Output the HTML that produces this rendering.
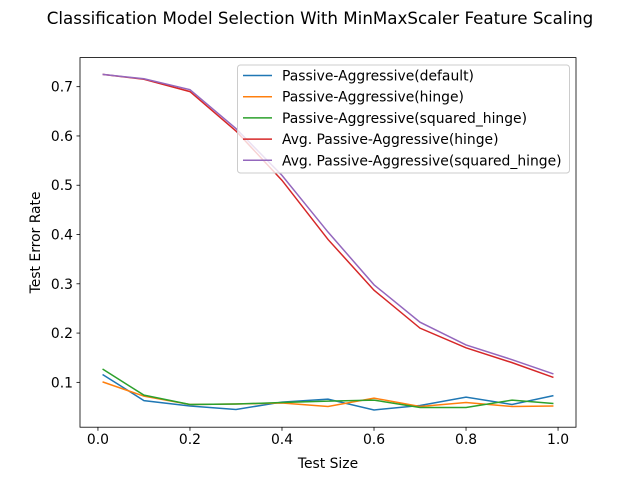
<!DOCTYPE html>
<html><head><meta charset="utf-8"><style>
body{margin:0;background:#fff}
svg{font-family:"DejaVu Sans","Liberation Sans",sans-serif}
</style></head><body>
<svg id="chart" width="640" height="480" viewBox="0 0 640 480">
<rect width="640" height="480" fill="#fff"/>
<text x="320" y="24" text-anchor="middle" font-size="16.7">Classification Model Selection With MinMaxScaler Feature Scaling</text>
<g id="plot"></g>
</svg>
<script>
const xs=[0.01,0.1,0.2,0.3,0.4,0.5,0.6,0.7,0.8,0.9,0.99];
const paDefault=[0.116,0.063,0.052,0.045,0.060,0.066,0.044,0.053,0.070,0.055,0.073];
const paHinge=[0.101,0.072,0.055,0.056,0.058,0.051,0.068,0.051,0.059,0.051,0.052];
const paSqHinge=[0.127,0.074,0.055,0.056,0.059,0.062,0.064,0.049,0.049,0.064,0.057];
const avgHinge=[0.725,0.715,0.690,0.610,0.510,0.390,0.287,0.210,0.170,0.140,0.110];
const avgSqHinge=[0.725,0.716,0.694,0.615,0.520,0.405,0.298,0.222,0.176,0.146,0.117];
const seriesNames=["Passive-Aggressive(default)","Passive-Aggressive(hinge)","Passive-Aggressive(squared_hinge)","Avg. Passive-Aggressive(hinge)","Avg. Passive-Aggressive(squared_hinge)"];
const xTicks=[0,0.2,0.4,0.6,0.8,1.0];
const yTicks=[0.1,0.2,0.3,0.4,0.5,0.6,0.7];
const colors=["#1f77b4","#ff7f0e","#2ca02c","#d62728","#9467bd"];
const L=80,R=576,T=57.6,B=427.2;
const xmin=-0.039,xmax=1.039,ymin=0.009,ymax=0.759;
const X=v=>L+(v-xmin)/(xmax-xmin)*(R-L);
const Y=v=>B-(v-ymin)/(ymax-ymin)*(B-T);
const NS="http://www.w3.org/2000/svg";
const g=document.getElementById('plot');
function mk(t,a,p){const e=document.createElementNS(NS,t);for(const k in a)e.setAttribute(k,a[k]);(p||g).appendChild(e);return e;}
const all=[paDefault,paHinge,paSqHinge,avgHinge,avgSqHinge];
all.forEach((s,i)=>{
 const p=mk('polyline',{points:s.map((v,j)=>X(xs[j])+','+Y(v)).join(' '),fill:'none',stroke:colors[i],'stroke-width':1.5});
 
 
});
const frame=mk('rect',{x:L,y:T,width:R-L,height:B-T,fill:'none',stroke:'#000','stroke-width':0.8});


xTicks.forEach(v=>{
 mk('line',{x1:X(v),x2:X(v),y1:B,y2:B+3.5,stroke:'#000','stroke-width':0.8});
 const t=mk('text',{x:X(v),y:B+17,'text-anchor':'middle','font-size':13.9});
 t.textContent=v.toFixed(1);
 
 
});
yTicks.forEach(v=>{
 mk('line',{x1:L-3.5,x2:L,y1:Y(v),y2:Y(v),stroke:'#000','stroke-width':0.8});
 const t=mk('text',{x:L-7,y:Y(v)+5,'text-anchor':'end','font-size':13.9});
 t.textContent=v.toFixed(1);
 
 
});
const xl=mk('text',{x:(L+R)/2,y:468,'text-anchor':'middle','font-size':13.9});
xl.textContent='Test Size';


const yl=mk('text',{x:0,y:0,'text-anchor':'middle','font-size':13.9,transform:`translate(40,${(T+B)/2}) rotate(-90)`});
yl.textContent='Test Error Rate';


const lg=mk('g',{});


mk('rect',{x:237.5,y:65,width:332,height:108,rx:3,fill:'#fff','fill-opacity':0.8,stroke:'#ccc','stroke-width':1},lg);
seriesNames.forEach((n,i)=>{
 const y=75.5+i*21.2;
 const e=mk('g',{},lg);
 
 
 mk('line',{x1:243,x2:272,y1:y,y2:y,stroke:colors[i],'stroke-width':1.5},e);
 const t=mk('text',{x:282,y:y+5,'font-size':13.9},e);
 t.textContent=n;
});
</script>
</body></html>
